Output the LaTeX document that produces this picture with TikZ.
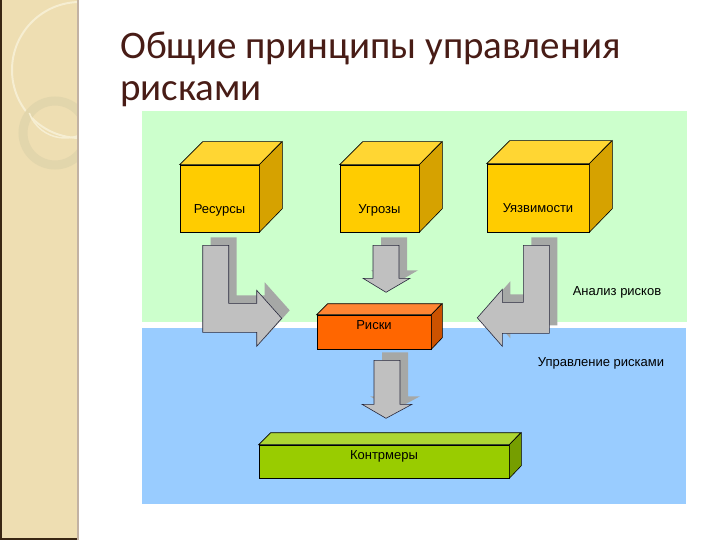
\documentclass[tikz,border=0pt]{standalone}
\usepackage{fontspec}
\setmainfont{Liberation Sans}
\newfontfamily\titlefont{Carlito}
\usetikzlibrary{positioning,calc}
\definecolor{barbeige}{RGB}{238,222,178}
\definecolor{barlight}{RGB}{246,238,210}
\definecolor{barring}{RGB}{226,214,172}
\definecolor{titlebrown}{RGB}{72,28,22}
\definecolor{panelgreen}{RGB}{204,255,204}
\definecolor{panelblue}{RGB}{153,204,255}
\definecolor{yellowfront}{RGB}{255,204,0}
\definecolor{yellowtop}{RGB}{255,214,51}
\definecolor{yellowside}{RGB}{214,162,0}
\definecolor{orangefront}{RGB}{255,102,0}
\definecolor{orangetop}{RGB}{255,133,51}
\definecolor{orangeside}{RGB}{204,82,0}
\definecolor{limefront}{RGB}{153,204,0}
\definecolor{limetop}{RGB}{173,214,51}
\definecolor{limeside}{RGB}{118,158,0}
\definecolor{arrowgray}{RGB}{192,192,192}
\definecolor{arrowshadow}{RGB}{166,168,166}
\definecolor{arrowline}{RGB}{40,40,60}

\begin{document}
\begin{tikzpicture}[x=1pt,y=-1pt,font=\fontsize{13}{15}\selectfont,
    face/.style={draw=black, line width=0.6pt},
    frontface/.style={face, inner sep=0pt},
    blockarrow/.style={fill=arrowgray, draw=arrowline, line width=0.6pt,
      preaction={fill=arrowshadow, transform canvas={xshift=8pt, yshift=8pt}}}]
  \useasboundingbox (0,0) rectangle (720,540);
  \fill[white] (0,0) rectangle (720,540);
  % left bar
  \fill[barbeige] (0,0) rectangle (78,540);
  \begin{scope}
    \clip (0,0) rectangle (78,540);
    \draw[barlight, line width=2pt] (80,70) circle (68);
    \draw[barring, line width=9pt] (55,133) circle (32);
    \draw[barlight, line width=1.5pt] (65,100) ++(68:38) arc (68:160:38);
  \end{scope}
  \draw[black!70!brown, line width=2pt] (1,0) -- (1,540);
  \draw[black!70!brown, line width=1.5pt] (0,539) -- (78,539);
  \draw[brown!40!gray!60, line width=1.5pt] (78,0) -- (78,540);
  % title
  \node[anchor=base west, inner sep=0pt, text=titlebrown,
        font=\titlefont\fontsize{39}{42}\selectfont] (title1) at (120,59) {Общие принципы управления};
  \node[anchor=base west, inner sep=0pt, text=titlebrown,
        font=\titlefont\fontsize{39}{42}\selectfont] (title2) at (120,101) {рисками};
  % panels
  \fill[panelgreen] (142,111) rectangle (687,322);
  \fill[panelblue] (142,328) rectangle (686,504);
  \node (analiz) at (617,292) {Анализ рисков};
  \node (upravl) at (601,363) {Управление рисками};
  % cubes
  \node[frontface, fill=yellowfront, minimum width=79pt, minimum height=67pt] (res) at (219.5,198.5) {\raisebox{-15pt}[0pt][0pt]{Ресурсы}};
  \draw[face, fill=yellowtop] (res.north west) -- ++(23,-23) -- ++(79,0) -- (res.north east) -- cycle;
  \draw[face, fill=yellowside] (res.north east) -- ++(23,-23) -- ++(0,67) -- (res.south east) -- cycle;
  \node[frontface, fill=yellowfront, minimum width=79pt, minimum height=67pt] (ugr) at (379.5,198.5) {\raisebox{-15pt}[0pt][0pt]{Угрозы}};
  \draw[face, fill=yellowtop] (ugr.north west) -- ++(23,-23) -- ++(79,0) -- (ugr.north east) -- cycle;
  \draw[face, fill=yellowside] (ugr.north east) -- ++(23,-23) -- ++(0,67) -- (ugr.south east) -- cycle;
  \node[frontface, fill=yellowfront, minimum width=102pt, minimum height=68pt] (uyaz) at (538,198) {\raisebox{-14pt}[0pt][0pt]{Уязвимости}};
  \draw[face, fill=yellowtop] (uyaz.north west) -- ++(23,-23) -- ++(102,0) -- (uyaz.north east) -- cycle;
  \draw[face, fill=yellowside] (uyaz.north east) -- ++(23,-23) -- ++(0,68) -- (uyaz.south east) -- cycle;
  \node[frontface, fill=orangefront, minimum width=114pt, minimum height=34pt] (risk) at (374,332) {\raisebox{3pt}[0pt][0pt]{Риски}};
  \draw[face, fill=orangetop] (risk.north west) -- ++(11,-11) -- ++(114,0) -- (risk.north east) -- cycle;
  \draw[face, fill=orangeside] (risk.north east) -- ++(11,-11) -- ++(0,34) -- (risk.south east) -- cycle;
  \node[frontface, fill=limefront, minimum width=250pt, minimum height=33pt] (kontr) at (384,461.5) {\raisebox{2pt}[0pt][0pt]{Контрмеры}};
  \draw[face, fill=limetop] (kontr.north west) -- ++(12,-12) -- ++(250,0) -- (kontr.north east) -- cycle;
  \draw[face, fill=limeside] (kontr.north east) -- ++(12,-12) -- ++(0,33) -- (kontr.south east) -- cycle;
  % block arrows
  \draw[blockarrow] ($(res.south west)+(23,13)$) -- ++(26,0) -- ++(0,58) -- ++(28,0) -- ++(0,-13)
    -- ++(25,28) -- ++(-25,28) -- ++(0,-14) -- ++(-54,0) -- cycle;
  \draw[blockarrow] ($(uyaz.south east)+(-40,13)$) -- ++(-26,0) -- ++(0,57) -- ++(-21,0) -- ++(0,-13)
    -- ++(-25,28.5) -- ++(25,28.5) -- ++(0,-13) -- ++(47,0) -- cycle;
  \draw[blockarrow] ($(ugr.south)+(-6.5,13)$) -- ++(26,0) -- ++(0,33) -- ++(11,0) -- ++(-24,14)
    -- ++(-23,-14) -- ++(10,0) -- cycle;
  \draw[blockarrow] ($(risk.south)+(0,11)$) -- ++(26,0) -- ++(0,44) -- ++(12,0) -- ++(-26,14)
    -- ++(-24,-14) -- ++(12,0) -- cycle;
\end{tikzpicture}
\end{document}
